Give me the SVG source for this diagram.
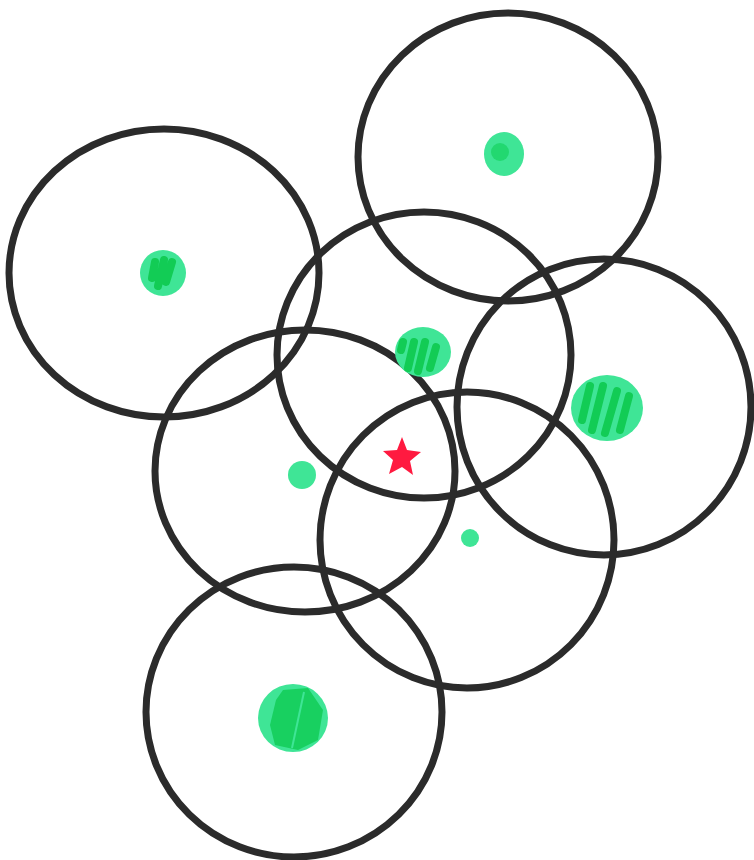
<svg xmlns="http://www.w3.org/2000/svg" width="754" height="860" viewBox="0 0 754 860">
<style>
.ring{fill:none;stroke:#2b2b2b;stroke-width:7}
.dot{fill:#3fe596;stroke:none}
.hatch{fill:none;stroke:#12cc55;stroke-width:8;stroke-linecap:round}
.star{fill:#ff1a40}
</style>
<rect width="754" height="860" fill="#fff"/>
<g id="circles">
<ellipse id="c1" class="ring" cx="508" cy="157" rx="150" ry="144"/>
<ellipse id="c2" class="ring" cx="164" cy="273" rx="155" ry="144"/>
<ellipse id="c3" class="ring" cx="424" cy="355" rx="147" ry="143"/>
<ellipse id="c4" class="ring" cx="604" cy="407" rx="147" ry="148"/>
<ellipse id="c5" class="ring" cx="305" cy="471" rx="150" ry="141"/>
<ellipse id="c6" class="ring" cx="467" cy="540" rx="147" ry="148"/>
<ellipse id="c7" class="ring" cx="294" cy="712" rx="148" ry="145"/>
</g>
<g id="points">
<g id="p1"><ellipse class="dot" cx="504" cy="154" rx="20" ry="22"/><circle cx="500" cy="152" r="9" fill="#22d870"/></g>
<g id="p2"><circle class="dot" cx="163" cy="273" r="23"/><path class="hatch" d="M155 262 L152 278 M164 260 L158 286 M172 262 L166 282"/></g>
<g id="p3"><ellipse class="dot" cx="423" cy="352" rx="28" ry="25"/><path class="hatch" d="M403 342 L401 350 M414 342 L408 368 M425 342 L418 371 M436 347 L430 368"/></g>
<g id="p4"><ellipse class="dot" cx="607" cy="408" rx="36" ry="33"/><path class="hatch" d="M590 386 L582 420 M603 386 L592 430 M617 391 L605 433 M629 396 L620 430"/></g>
<g id="p5"><circle class="dot" cx="302" cy="475" r="14"/></g>
<g id="p6"><circle class="dot" cx="470" cy="538" r="9"/></g>
<g id="p7"><ellipse class="dot" cx="293" cy="718" rx="35" ry="34"/><path d="M283 690 L308 688 L323 710 L318 740 L298 750 L275 745 L270 725 L276 700 Z" fill="#18d060"/><path d="M304 692 L292 748" stroke="#3fe596" stroke-width="2" fill="none"/></g>
</g>
<g id="target">
<path class="star" d="M402 437 L407 450 L421 452 L410 461 L413 475 L402 467 L389 474 L393 460 L383 451 L397 450 Z"/>
</g>
</svg>
